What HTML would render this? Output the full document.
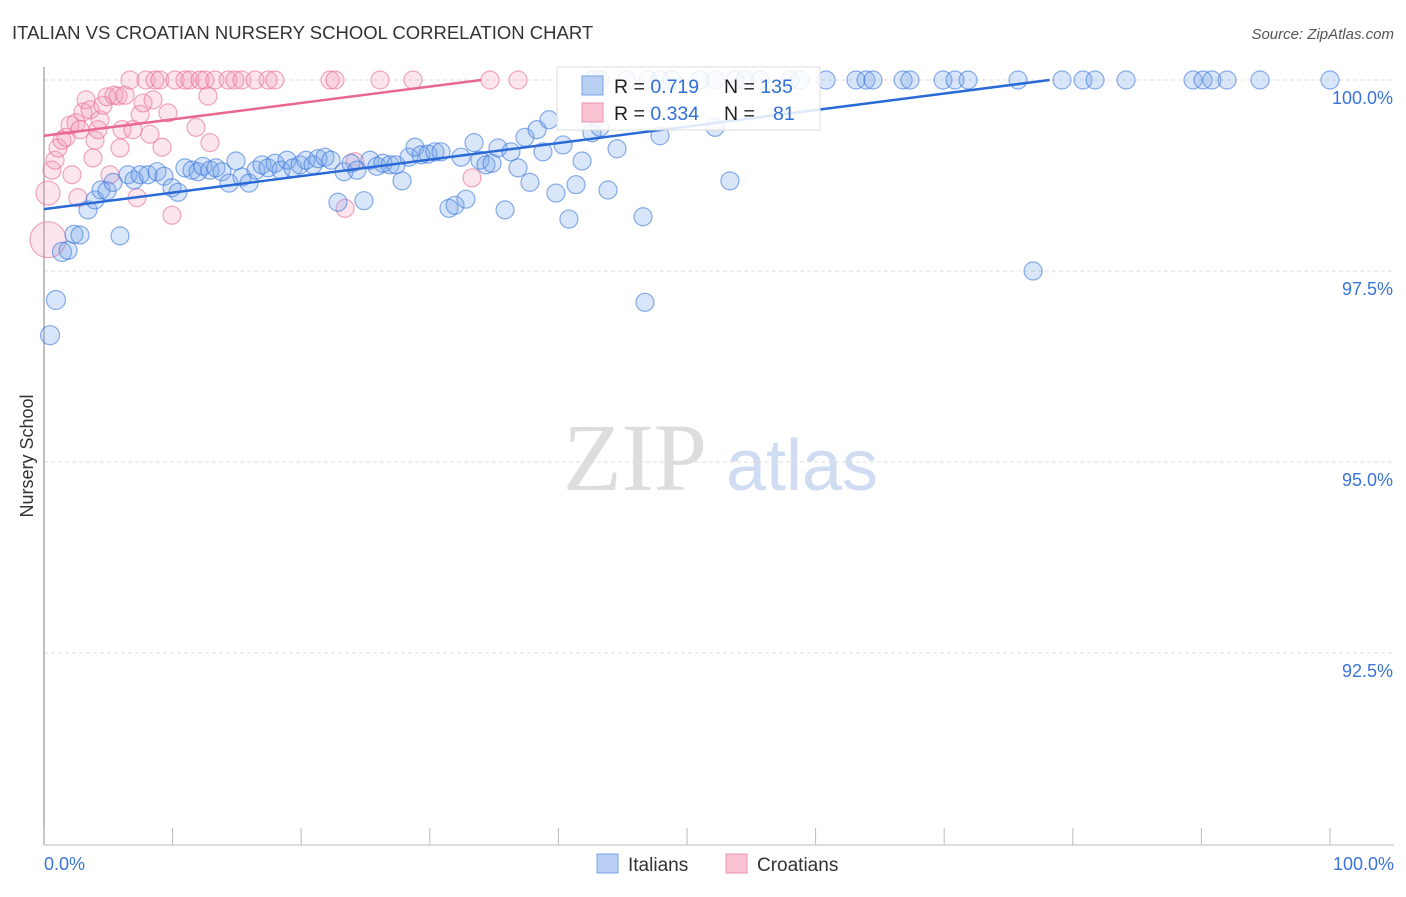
<!DOCTYPE html>
<html><head><meta charset="utf-8"><style>
body{margin:0;background:#fff;font-family:"Liberation Sans",sans-serif;}
</style></head><body>
<svg id="chart" width="1406" height="892" xmlns="http://www.w3.org/2000/svg" font-family="Liberation Sans, sans-serif">
<text x="12" y="39" font-size="18.5" fill="#333">ITALIAN VS CROATIAN NURSERY SCHOOL CORRELATION CHART</text>
<text x="1394" y="39" font-size="15" fill="#555" text-anchor="end" font-style="italic">Source: ZipAtlas.com</text>
<text transform="translate(33,456) rotate(-90)" font-size="18" fill="#333" text-anchor="middle">Nursery School</text>
<g>
<text x="635" y="490" font-size="96" fill="#ddd" text-anchor="middle" style="font-family:'Liberation Serif',serif">ZIP</text>
<text x="802" y="490" font-size="72" fill="#cfdcf2" text-anchor="middle">atlas</text>
</g>
<g id="grid"></g><g id="axes"></g><g id="pts"></g><g id="trend"></g>
<g>
<rect x="557" y="67" width="263" height="63" fill="#fff" fill-opacity="0.85" stroke="#ddd"/>
<rect x="582" y="76" width="21" height="19" fill="#b9d0f3" stroke="#7aa4e6"/>
<rect x="582" y="103" width="21" height="19" fill="#f9c3d3" stroke="#eb94b0"/>
<text x="614" y="93" font-size="19.5" fill="#222">R = <tspan fill="#2f6fd6">0.719</tspan><tspan x="724">N = </tspan><tspan fill="#2f6fd6">135</tspan></text>
<text x="614" y="120" font-size="19.5" fill="#222">R = <tspan fill="#2f6fd6">0.334</tspan><tspan x="724">N = </tspan><tspan x="773" fill="#2f6fd6">81</tspan></text>
</g>
<g>
<rect x="597" y="854" width="21" height="19" fill="#b9d0f3" stroke="#7aa4e6"/>
<text x="628" y="871" font-size="19" fill="#333">Italians</text>
<rect x="726" y="854" width="21" height="19" fill="#f9c3d3" stroke="#eb94b0"/>
<text x="757" y="871" font-size="19" fill="#333">Croatians</text>
</g>
</svg>
<script>
const yTicks=[100,97.5,95,92.5];
const yTickLabels=["100.0%","97.5%","95.0%","92.5%"];
const xTicks=[0,10,20,30,40,50,60,70,80,90,100];
const italiansX=[0.47,0.93,1.40,1.87,2.33,2.80,3.42,3.97,4.43,4.90,5.37,5.91,6.53,7.00,7.47,8.09,8.79,9.33,9.95,10.42,10.96,11.51,11.98,12.36,12.91,13.37,13.84,14.39,14.93,15.40,15.94,16.49,16.95,17.42,17.96,18.43,18.90,19.36,19.91,20.37,20.92,21.31,21.85,22.32,22.86,23.33,23.87,24.34,24.88,25.35,25.89,26.36,26.91,27.37,27.84,28.38,28.85,29.32,29.86,30.40,30.87,31.49,31.96,32.43,32.81,33.44,33.90,34.37,34.84,35.30,35.85,36.31,36.86,37.40,37.79,38.34,38.80,39.27,39.81,40.36,40.82,41.37,41.84,42.61,43.23,43.86,44.56,46.58,46.73,47.90,52.18,53.34,76.91,
42.69,43.23,45.33,46.97,47.90,48.83,51.01,52.18,53.73,54.51,55.68,58.01,58.79,60.81,63.14,63.92,64.46,66.80,67.34,69.91,70.84,71.85,75.74,79.16,80.79,81.73,84.14,89.35,90.13,90.82,91.99,94.56,100];
const italiansY=[96.66,97.12,97.75,97.77,97.98,97.97,98.30,98.43,98.56,98.55,98.66,97.96,98.76,98.69,98.76,98.76,98.80,98.74,98.59,98.53,98.85,98.82,98.80,98.87,98.82,98.85,98.80,98.65,98.94,98.73,98.65,98.82,98.89,98.85,98.91,98.82,98.95,98.85,98.89,98.95,98.89,98.97,98.99,98.95,98.40,98.80,98.91,98.82,98.42,98.95,98.87,98.91,98.89,98.89,98.68,98.99,99.12,99.02,99.03,99.06,99.06,98.32,98.36,98.99,98.44,99.18,98.95,98.89,98.91,99.11,98.30,99.06,98.85,99.25,98.66,99.35,99.06,99.48,98.52,99.15,98.18,98.63,98.94,99.31,99.38,98.56,99.10,98.21,97.09,99.27,99.38,98.68,97.50,
100,100,100,100,100,100,100,100,100,100,100,100,100,100,100,100,100,100,100,100,100,100,100,100,100,100,100,100,100,100,100,100,100];
const croatiansX=[0.31,0.31,0.62,0.86,1.09,1.40,1.71,2.02,2.18,2.49,2.64,2.80,3.03,3.27,3.58,3.81,3.97,4.20,4.35,4.59,4.90,5.13,5.44,5.75,5.91,6.07,6.30,6.69,6.92,7.23,7.47,7.70,7.93,8.24,8.48,8.63,9.02,9.18,9.64,9.95,10.19,10.96,11.35,11.82,12.13,12.52,12.75,12.91,13.30,14.31,14.85,15.40,16.41,17.42,17.96,22.24,22.63,23.41,24.18,26.13,28.69,33.28,34.68,36.86];
const croatiansY=[97.91,98.52,98.82,98.95,99.11,99.21,99.25,99.41,98.76,99.44,98.46,99.35,99.58,99.74,99.61,98.98,99.21,99.35,99.48,99.67,99.78,98.76,99.80,99.79,99.11,99.35,99.80,100,99.35,98.46,99.55,99.70,100,99.29,99.74,100,100,99.12,99.57,98.23,100,100,100,99.38,100,100,99.79,99.18,100,100,100,100,100,100,100,100,100,98.32,98.93,100,100,98.72,100,100];
const italiansTrend=[[0,98.31],[78.2,100]];
const croatiansTrend=[[0,99.27],[34,100]];

const NS="http://www.w3.org/2000/svg";
const X0=44,X1=1330,YTOP=80,PXPER=76.4;
function xs(v){return X0+(X1-X0)*v/100;}
function ys(v){return YTOP+(100-v)*PXPER;}
function mk(t,a,p){const e=document.createElementNS(NS,t);for(const k in a)e.setAttribute(k,a[k]);document.getElementById(p).appendChild(e);return e;}
yTicks.forEach((t,i)=>{
 const l=mk('line',{x1:44,x2:1394,y1:ys(t),y2:ys(t),stroke:'#ddd','stroke-dasharray':'4,3'},'grid');
 
 
 const tx=mk('text',{x:1393,y:ys(t)+24,'font-size':18,fill:'#3a74d8','text-anchor':'end'},'grid');
 tx.textContent=yTickLabels[i];
 
 
});
const ax=mk('line',{x1:44,x2:44,y1:67,y2:845,stroke:'#aaa','stroke-width':1.5},'axes');


const bx=mk('line',{x1:44,x2:1394,y1:845,y2:845,stroke:'#bbb'},'axes');


xTicks.forEach(t=>{
 const l=mk('line',{x1:xs(t),x2:xs(t),y1:828,y2:845,stroke:'#bbb'},'axes');
 
 
});
const xl=mk('text',{x:44,y:870,'font-size':18,fill:'#3a74d8'},'axes');xl.textContent='0.0%';


const xr=mk('text',{x:1394,y:870,'font-size':18,fill:'#3a74d8','text-anchor':'end'},'axes');xr.textContent='100.0%';


function pts(X,Y,fill,stroke,name){
 X.forEach((v,i)=>{
  let r=9; if(name==='croatian-point'&&i===0)r=18; else if(i<2&&name==='croatian-point')r=12; else if(name==='italian-point'&&i<3)r=9.5;
  const c=mk('circle',{cx:xs(v),cy:ys(Y[i]),r:r,fill:fill,stroke:stroke,'stroke-width':1.2},'pts');
  
  
 });
}
pts(croatiansX,croatiansY,'rgba(244,150,182,0.25)','rgba(232,110,150,0.6)','croatian-point');
pts(italiansX,italiansY,'rgba(120,165,235,0.28)','rgba(60,120,220,0.6)','italian-point');
function tl(T,col,name){
 const l=mk('line',{x1:xs(T[0][0]),y1:ys(T[0][1]),x2:xs(T[1][0]),y2:ys(T[1][1]),stroke:col,'stroke-width':2.5},'trend');
 
 
}
tl(italiansTrend,'#2a6ad6','italians-trendline');
tl(croatiansTrend,'#e8688f','croatians-trendline');
</script>
</body></html>
